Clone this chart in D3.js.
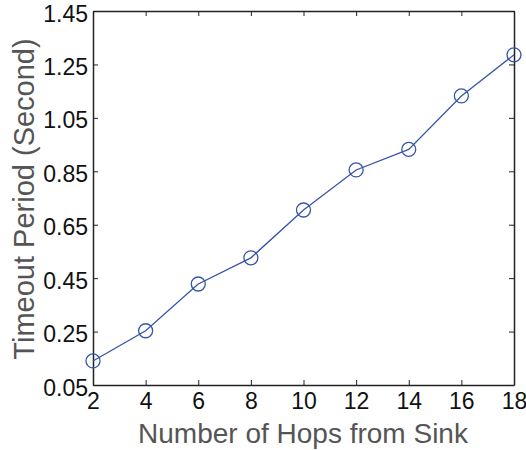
<!DOCTYPE html>
<html>
<head>
<meta charset="utf-8">
<script src="https://cdn.jsdelivr.net/npm/d3@7"></script>
<style>
  body { margin: 0; background: #fff; }
  svg text { font-family: "Liberation Sans", Arial, Helvetica, sans-serif; }
</style>
</head>
<body>
<div id="chart"></div>
<script>
const width = 526;
const height = 450;

// data
const hops = [2, 4, 6, 8, 10, 12, 14, 16, 18];
const timeout = [0.14, 0.253, 0.428, 0.526, 0.705, 0.855, 0.932, 1.132, 1.286];
const xTicks = [2, 4, 6, 8, 10, 12, 14, 16, 18];
const yTicks = [0.05, 0.25, 0.45, 0.65, 0.85, 1.05, 1.25, 1.45];

const margin = { left: 93, right: 12, top: 11, bottom: 65 };
const lineColor = "#3556a8";

const svg = d3.select('#chart')
  .append('svg')
  .attr('width', width)
  .attr('height', height);

const x = d3.scaleLinear()
  .domain([2, 18])
  .range([margin.left, width - margin.right]);

const y = d3.scaleLinear()
  .domain([0.05, 1.45])
  .range([height - margin.bottom, margin.top]);

// axes (ticks pointing inward, box style)
const tickLen = 5;
const axisColor = "#222";

const xAxis = svg.append('g')
  .attr('transform', `translate(0,${y(0.05)})`)
  .call(d3.axisBottom(x).tickValues(xTicks).tickSizeInner(-tickLen).tickSizeOuter(0).tickPadding(8).tickFormat(d3.format('d')));

const xAxisTop = svg.append('g')
  .attr('transform', `translate(0,${y(1.45)})`)
  .call(d3.axisTop(x).tickValues(xTicks).tickSizeInner(-tickLen).tickSizeOuter(0).tickFormat(''));

const yAxis = svg.append('g')
  .attr('transform', `translate(${x(2)},0)`)
  .call(d3.axisLeft(y).tickValues(yTicks).tickSizeInner(-tickLen).tickSizeOuter(0).tickPadding(5).tickFormat(d3.format('.2f')));

const yAxisRight = svg.append('g')
  .attr('transform', `translate(${x(18)},0)`)
  .call(d3.axisRight(y).tickValues(yTicks).tickSizeInner(-tickLen).tickSizeOuter(0).tickFormat(''));

[xAxis, xAxisTop, yAxis, yAxisRight].forEach(a => {
  a.select('.domain').attr('stroke', axisColor).attr('stroke-width', 1.5);
  a.selectAll('.tick line').attr('stroke', axisColor).attr('stroke-width', 1);
  a.selectAll('.tick text')
    .attr('fill', '#111')
    .style('font-size', '23px');
});

xAxis.selectAll('.tick text').attr('dy', '0.71em');
// MATLAB labels sit a touch below their ticks
yAxis.selectAll('.tick text').attr('dy', '0.44em');

// line + markers
const line = d3.line()
  .x((d, i) => x(hops[i]))
  .y(d => y(d));

svg.append('path')
  .datum(timeout)
  .attr('fill', 'none')
  .attr('stroke', lineColor)
  .attr('stroke-width', 1.3)
  .attr('d', line);

svg.selectAll('.marker')
  .data(timeout)
  .join('circle')
    .attr('class', 'marker')
    .attr('cx', (d, i) => x(hops[i]))
    .attr('cy', d => y(d))
    .attr('r', 7)
    .attr('fill', 'none')
    .attr('stroke', lineColor)
    .attr('stroke-width', 1.3);

// axis titles
svg.append('text')
  .attr('x', 303)
  .attr('y', 443)
  .attr('text-anchor', 'middle')
  .attr('fill', '#555')
  .style('font-size', '28px')
  .text('Number of Hops from Sink');

svg.append('text')
  .attr('transform', `translate(34,199) rotate(-90)`)
  .attr('text-anchor', 'middle')
  .attr('fill', '#555')
  .style('font-size', '29px')
  .text('Timeout Period (Second)');
</script>
</body>
</html>
